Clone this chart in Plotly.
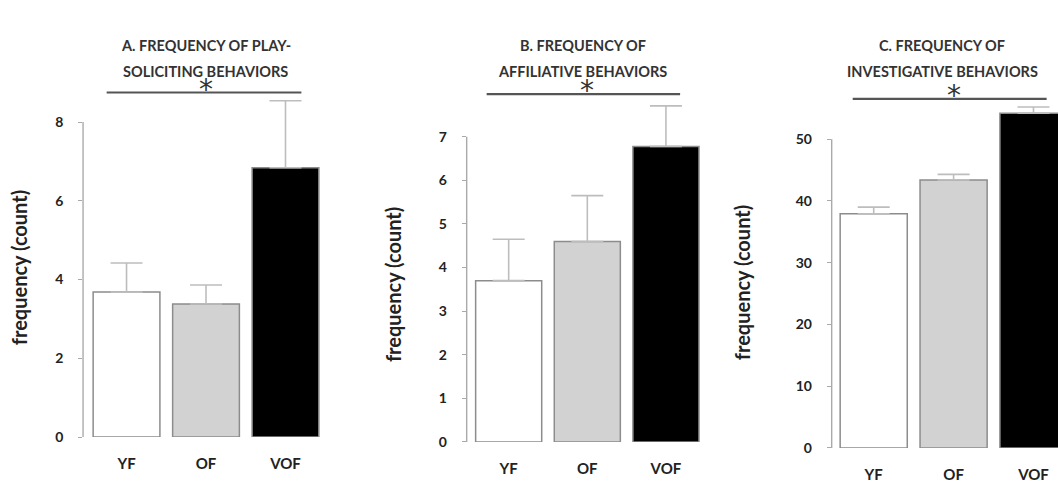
import plotly.graph_objects as go

categories = ["YF", "OF", "VOF"]

title_a = ["A. FREQUENCY OF PLAY-", "SOLICITING BEHAVIORS"]
title_b = ["B. FREQUENCY OF", "AFFILIATIVE BEHAVIORS"]
title_c = ["C. FREQUENCY OF", "INVESTIGATIVE BEHAVIORS"]

means_a = [3.68, 3.38, 6.84]
sem_a = [0.74, 0.48, 1.70]
means_b = [3.70, 4.60, 6.78]
sem_b = [0.95, 1.05, 0.93]
means_c = [37.9, 43.4, 54.2]
sem_c = [1.1, 0.9, 1.0]

yticks_a = [0, 2, 4, 6, 8]
yticks_b = [0, 1, 2, 3, 4, 5, 6, 7]
yticks_c = [0, 10, 20, 30, 40, 50]

ytitle = "frequency (count)"
sig_label = "*"

bar_colors = ["#ffffff", "#d2d2d2", "#000000"]
outline = "#8c8c8c"
font_family = "Lato, 'Open Sans', sans-serif"

panels = [
    dict(title=title_a, means=means_a, sem=sem_a, ticks=yticks_a,
         xdom=[0.0785, 0.3074], xr=[-0.547, 2.5], ydom=[0.0971, 0.878], yr=[0, 9.6],
         sig_y=8.75, sig_x=[-0.25, 2.2], tcx=0.1947, ytx=0.018, yty=0.446),
    dict(title=title_b, means=means_b, sem=sem_b, ticks=yticks_b,
         xdom=[0.4411, 0.6666], xr=[-0.534, 2.5], ydom=[0.0868, 0.8795], yr=[0, 8.8],
         sig_y=7.98, sig_x=[-0.28, 2.18], tcx=0.551, ytx=0.3715, yty=0.411),
    dict(title=title_c, means=means_c, sem=sem_c, ticks=yticks_c,
         xdom=[0.7861, 1.0], xr=[-0.526, 2.307], ydom=[0.0744, 0.8657], yr=[0, 62],
         sig_y=56.5, sig_x=[-0.263, 2.165], tcx=0.8904, ytx=0.7013, yty=0.417),
]

fig = go.Figure()
annotations = []
shapes = []

for i, p in enumerate(panels):
    n = "" if i == 0 else str(i + 1)
    xa, ya = "x" + n, "y" + n
    fig.add_trace(go.Bar(
        x=list(range(len(categories))), y=p["means"], width=0.84,
        marker=dict(color=bar_colors, line=dict(color=outline, width=1.5)),
        error_y=dict(type="data", array=p["sem"], arrayminus=[0] * len(p["sem"]),
                     symmetric=False, color="#bdbdbd", thickness=1.6, width=16),
        xaxis=xa, yaxis=ya, showlegend=False, hoverinfo="skip",
    ))
    fig.layout["xaxis" + n] = dict(
        domain=p["xdom"], range=p["xr"], anchor=ya, automargin=False,
        tickvals=list(range(len(categories))), ticktext=categories,
        showline=False, showgrid=False, zeroline=False, ticks="",
        ticklabelstandoff=16,
        tickfont=dict(family=font_family, size=15, color="#222", weight="bold"),
    )
    fig.layout["yaxis" + n] = dict(
        domain=p["ydom"], range=p["yr"], anchor=xa, automargin=False,
        tickvals=p["ticks"], showline=False, showgrid=False, zeroline=False,
        ticks="outside", ticklen=4, tickcolor="#aaaaaa", tickwidth=1.2,
        ticklabelstandoff=12,
        tickfont=dict(family=font_family, size=14, color="#222", weight="bold"),
    )
    shapes.append(dict(type="line", xref=xa + " domain", yref=ya,
                       x0=0, x1=0, y0=0, y1=max(p["ticks"]),
                       line=dict(color="#aaaaaa", width=1.4)))
    shapes.append(dict(type="line", xref=xa, yref=ya,
                       x0=p["sig_x"][0], x1=p["sig_x"][1], y0=p["sig_y"], y1=p["sig_y"],
                       line=dict(color="#555555", width=2.2)))
    annotations.append(dict(text=sig_label, xref=xa, yref=ya, x=1, y=p["sig_y"],
                            yanchor="bottom", showarrow=False, yshift=-15,
                            font=dict(family="DejaVu Sans", size=28, color="#333")))
    for line, yy in zip(p["title"], [0.905, 0.853]):
        annotations.append(dict(text=line, xref="paper", yref="paper", x=p["tcx"], y=yy,
                                xanchor="center", yanchor="middle", showarrow=False,
                                font=dict(family=font_family, size=14.5, color="#333",
                                          weight="bold")))
    annotations.append(dict(text=ytitle, xref="paper", yref="paper", x=p["ytx"], y=p["yty"],
                            xanchor="center", yanchor="middle", textangle=-90, showarrow=False,
                            font=dict(family=font_family, size=20, color="#222",
                                      weight="bold")))

fig.update_layout(
    width=1058, height=484, margin=dict(l=0, r=0, t=0, b=0, autoexpand=False),
    paper_bgcolor="white", plot_bgcolor="white",
    annotations=annotations, shapes=shapes, bargap=0.16,
)

fig.write_html("out.html", config={"displayModeBar": False},
               post_script="document.body.style.margin='0';")
